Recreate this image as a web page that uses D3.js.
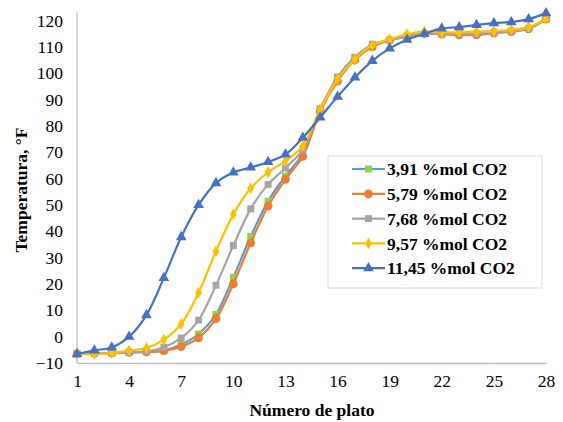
<!DOCTYPE html>
<html><head><meta charset="utf-8">
<script src="https://cdn.jsdelivr.net/npm/d3@7"></script>
<style>body{margin:0;background:#fff}svg{display:block}</style>
</head><body><svg id="c" width="563" height="422" font-family="Liberation Serif"></svg>
<script>
const plates = d3.range(1, 29);
const seriesNames = ["3,91 %mol CO2","5,79 %mol CO2","7,68 %mol CO2","9,57 %mol CO2","11,45 %mol CO2"];
const s391 = [-6.5,-6.3,-6.3,-6,-5.8,-5.3,-3,1,8.5,22.5,38,51.4,61,69.5,86,98.5,106,110.5,112.5,114,115,115,115,115,115.5,116,117,120.5];
const s579 = [-6.5,-6.3,-6.2,-6,-5.8,-5.3,-3.8,-0.5,6.8,20,35.6,49.5,59.7,68.4,85.5,97,105,110,112.5,114,115,114.8,114.5,114.5,115.2,115.8,116.8,120.5];
const s768 = [-6.5,-6.3,-6.2,-6,-5.5,-4,-0.5,6.3,19.5,34.6,48.5,57.8,64,71,86.5,98.5,106,111,112.5,114,115,115,115,115,115.5,116,117,120.5];
const s957 = [-6.6,-6.5,-6.2,-5.3,-4.3,-1.1,4.8,16.7,32.4,46.4,56.3,62.4,66.7,72.4,86.3,97.7,105.3,110.6,112.9,114.8,115.8,115.5,115.5,115.8,116,116.5,117.5,120.6];
const s1145 = [-6.6,-5.2,-4.1,0,8.2,22.3,37.8,50,58.3,62.3,64.2,66.3,69.2,75.5,83.2,91.1,98.4,104.7,109.4,112.7,115,117,117.5,118.3,119,119.4,120.5,122.8];
const yTicks = [-10,0,10,20,30,40,50,60,70,80,90,100,110,120];
const xTicks = [1,4,7,10,13,16,19,22,25,28];

const series = [
  {name: seriesNames[0], values: s391, line: "#5B9BD5", fill: "#92D050", sym: d3.symbolSquare, size: 48},
  {name: seriesNames[1], values: s579, line: "#ED7D31", fill: "#ED7D31", sym: d3.symbolCircle, size: 60},
  {name: seriesNames[2], values: s768, line: "#A5A5A5", fill: "#A5A5A5", sym: d3.symbolSquare, size: 48},
  {name: seriesNames[3], values: s957, line: "#FFC000", fill: "#FFC000", sym: d3.symbolDiamond, size: 40},
  {name: seriesNames[4], values: s1145, line: "#4472C4", fill: "#4472C4", sym: d3.symbolTriangle, size: 50}
];

const svg = d3.select("#c");
const x = d3.scaleLinear().domain([1, 28]).range([77, 546]);
const y = d3.scaleLinear().domain([-10, 120]).range([363, 20.5]);
const F = "Liberation Serif";

// axes
const yAxis = svg.append("g").attr("transform", "translate(77,0)")
  .call(d3.axisLeft(y).tickValues(yTicks).tickSize(0).tickPadding(14));
yAxis.attr("font-family", F).attr("font-size", 17.5);
yAxis.select(".domain").attr("stroke", "#BFBFBF").attr("stroke-width", 1.3)
  .attr("d", `M0,${y(-10)}V${y(120)-8}`);
yAxis.selectAll("text").attr("font-family", F).attr("font-size", 17.5).attr("fill", "#000");

const xAxis = svg.append("g").attr("transform", `translate(0,${y(-10)})`)
  .call(d3.axisBottom(x).tickValues(xTicks).tickSize(0).tickPadding(12));
xAxis.attr("font-family", F).attr("font-size", 17.5);
xAxis.select(".domain").attr("stroke", "#BFBFBF").attr("stroke-width", 1.3);
xAxis.selectAll("text").attr("font-family", F).attr("font-size", 17.5).attr("fill", "#000");

// titles
svg.append("text").attr("x", 312).attr("y", 416).attr("text-anchor", "middle")
  .attr("font-family", F).attr("font-weight", "bold").attr("font-size", 17.5).text("Número de plato");
svg.append("text").attr("transform", "translate(27,190) rotate(-90)").attr("text-anchor", "middle")
  .attr("font-family", F).attr("font-weight", "bold").attr("font-size", 17.5).text("Temperatura, °F");

// lines
const line = d3.line().x((d, i) => x(plates[i])).y(d => y(d)).curve(d3.curveCatmullRom.alpha(0.5));
series.forEach(s => {
  const g = svg.append("g");
  g.append("path").attr("d", line(s.values)).attr("fill", "none").attr("stroke", s.line).attr("stroke-width", 2.2);
  g.selectAll("path.m").data(s.values).join("path").attr("class", "m")
    .attr("transform", (d, i) => `translate(${x(plates[i])},${y(d)})`)
    .attr("d", d3.symbol().type(s.sym).size(s.size)).attr("fill", s.fill);
});

// legend
const lg = svg.append("g");
lg.append("rect").attr("x", 328).attr("y", 156).attr("width", 214).attr("height", 132)
  .attr("fill", "#fff").attr("stroke", "#D9D9D9").attr("stroke-width", 1);
series.forEach((s, i) => {
  const cy = 169 + i * 24.8;
  lg.append("line").attr("x1", 352).attr("x2", 385).attr("y1", cy).attr("y2", cy)
    .attr("stroke", s.line).attr("stroke-width", 2.2);
  lg.append("path").attr("transform", `translate(368.5,${cy})`)
    .attr("d", d3.symbol().type(s.sym).size(s.size)).attr("fill", s.fill);
  lg.append("text").attr("x", 387).attr("y", cy).attr("dy", "0.35em")
    .attr("font-family", F).attr("font-weight", "bold").attr("font-size", 17.5).text(s.name);
});
</script></body></html>
